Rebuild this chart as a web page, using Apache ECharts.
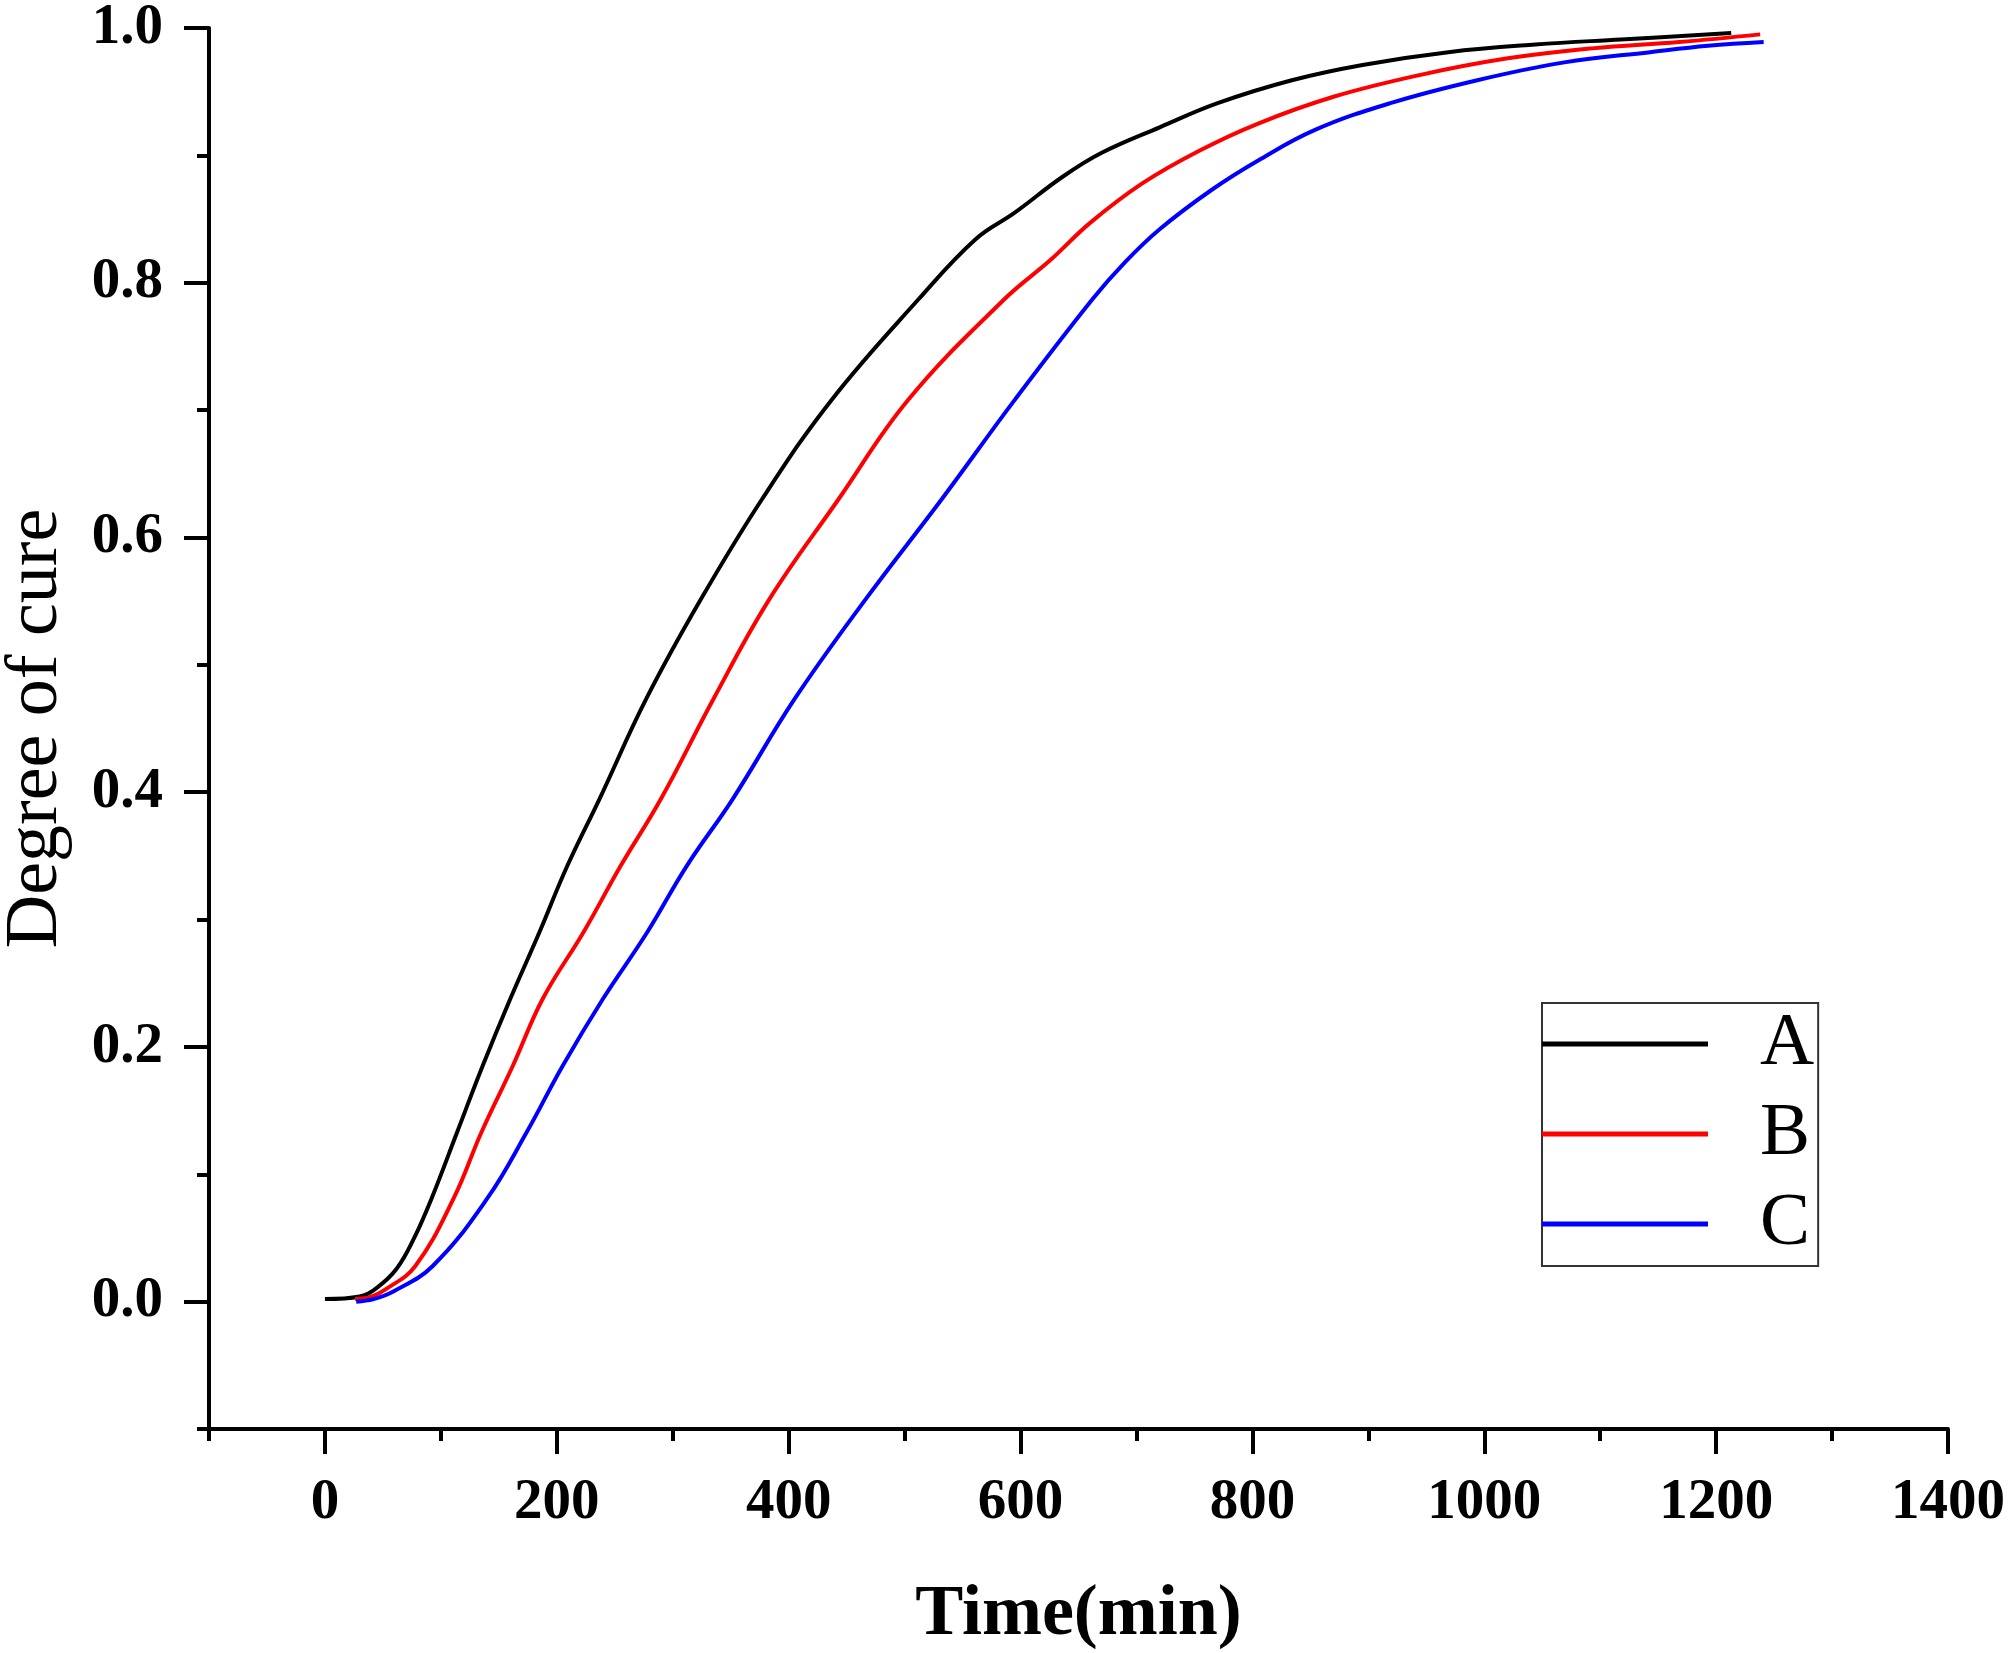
<!DOCTYPE html>
<html style="height: 100%">
<head>
<meta charset="utf-8">
<script type="text/javascript" src="https://cdn.jsdelivr.net/npm/echarts/dist/echarts.min.js"></script>
</head>
<body style="height: 100%; margin: 0; background: #fff">
<div id="container" style="height: 100%"></div>
<script type="text/javascript">
// readings: time (min) and degree of cure
var timeA = [0, 30, 45, 62, 77, 92, 114, 136, 160, 185, 209, 237, 277, 324, 377, 437, 512, 561, 595, 636, 670, 720, 770, 834, 895, 969, 1044, 1118, 1213];
var cureA = [0.002, 0.004, 0.011, 0.026, 0.05, 0.081, 0.133, 0.185, 0.238, 0.29, 0.342, 0.395, 0.473, 0.551, 0.630, 0.708, 0.787, 0.834, 0.855, 0.883, 0.902, 0.922, 0.941, 0.959, 0.971, 0.981, 0.987, 0.991, 0.996];

var timeB = [26, 40, 53, 78, 111, 135, 162, 188, 223, 255, 290, 335, 383, 443, 503, 586, 626, 660, 705, 755, 805, 870, 944, 1019, 1093, 1168, 1238];
var cureB = [0.002, 0.004, 0.01, 0.028, 0.081, 0.133, 0.185, 0.238, 0.29, 0.342, 0.395, 0.473, 0.551, 0.630, 0.708, 0.787, 0.818, 0.847, 0.878, 0.904, 0.925, 0.946, 0.963, 0.976, 0.984, 0.989, 0.995];

var timeC = [27, 42, 59, 93, 140, 174, 205, 240, 278, 312, 352, 405, 466, 532, 595, 662, 690, 720, 765, 805, 854, 919, 994, 1069, 1143, 1193, 1241];
var cureC = [0.0, 0.002, 0.008, 0.028, 0.081, 0.133, 0.185, 0.238, 0.29, 0.342, 0.395, 0.473, 0.551, 0.630, 0.708, 0.787, 0.816, 0.842, 0.873, 0.896, 0.920, 0.941, 0.959, 0.973, 0.981, 0.986, 0.989];

var seriesNames = ['A', 'B', 'C'];
var seriesColors = ['#000000', '#ff0000', '#0000ff'];

// labelled (long) ticks
var xMajorTicks = [0, 200, 400, 600, 800, 1000, 1200, 1400];
var yMajorTicks = [0, 0.2, 0.4, 0.6, 0.8, 1.0];

function pairs(t, v) {
    return t.map(function (x, i) { return [x, v[i]]; });
}

var font = '"Liberation Serif", "Times New Roman", serif';
var dom = document.getElementById('container');
var myChart = echarts.init(dom);

var lineStyle = { color: '#000', width: 4 };

var option = {
    backgroundColor: '#fff',
    animation: false,
    grid: { left: 209, right: 60, top: 28, bottom: 224, containLabel: false, outerBoundsMode: 'none' },
    legend: {
        orient: 'vertical',
        left: 1542,
        top: 1003,
        data: seriesNames,
        icon: 'rect',
        itemWidth: 166,
        itemHeight: 5,
        itemGap: 10,
        padding: [1, 4, 2, 0],
        borderColor: '#333',
        borderWidth: 2,
        textStyle: {
            fontFamily: font,
            fontSize: 75,
            color: '#000',
            lineHeight: 80,
            padding: [0, 0, 0, 47]
        }
    },
    xAxis: [{
        type: 'value',
        min: -100,
        max: 1400,
        interval: 100,
        name: 'Time(min)',
        nameLocation: 'middle',
        nameGap: 150,
        nameTextStyle: { fontFamily: font, fontSize: 72, fontWeight: 'bold', color: '#000' },
        axisLine: { onZero: false, lineStyle: lineStyle },
        axisTick: { length: 12, lineStyle: lineStyle },
        axisLabel: {
            margin: 46,
            fontFamily: font, fontSize: 57, fontWeight: 'bold', color: '#000',
            formatter: function (v) { return v % 200 === 0 ? String(v) : ''; }
        },
        splitLine: { show: false }
    }, {
        // long ticks at the labelled values
        type: 'value',
        position: 'bottom',
        min: -100,
        max: 1400,
        axisLine: { show: false, onZero: false },
        axisTick: { length: 25, lineStyle: lineStyle, customValues: xMajorTicks },
        axisLabel: { show: false },
        splitLine: { show: false }
    }],
    yAxis: [{
        type: 'value',
        min: -0.1,
        max: 1.0,
        interval: 0.1,
        name: 'Degree of cure',
        nameLocation: 'middle',
        nameGap: 135,
        nameTextStyle: { fontFamily: font, fontSize: 74, color: '#000' },
        axisLine: { onZero: false, lineStyle: lineStyle },
        axisTick: { length: 12, lineStyle: lineStyle },
        axisLabel: {
            margin: 46,
            fontFamily: font, fontSize: 57, fontWeight: 'bold', color: '#000',
            formatter: function (v) { return Math.round(v * 10) % 2 === 0 ? v.toFixed(1) : ''; }
        },
        splitLine: { show: false }
    }, {
        // long ticks at the labelled values
        type: 'value',
        position: 'left',
        min: -0.1,
        max: 1.0,
        axisLine: { show: false, onZero: false },
        axisTick: { length: 25, lineStyle: lineStyle, customValues: yMajorTicks },
        axisLabel: { show: false },
        splitLine: { show: false }
    }],
    series: [
        { name: 'A', type: 'line', data: pairs(timeA, cureA) },
        { name: 'B', type: 'line', data: pairs(timeB, cureB) },
        { name: 'C', type: 'line', data: pairs(timeC, cureC) }
    ].map(function (s, i) {
        s.xAxisIndex = 0;
        s.yAxisIndex = 0;
        s.smooth = 0.4;
        s.showSymbol = false;
        s.symbol = 'none';
        s.color = seriesColors[i];
        s.itemStyle = { color: seriesColors[i] };
        s.lineStyle = { color: seriesColors[i], width: 4 };
        return s;
    })
};

myChart.setOption(option);
</script>
</body>
</html>
